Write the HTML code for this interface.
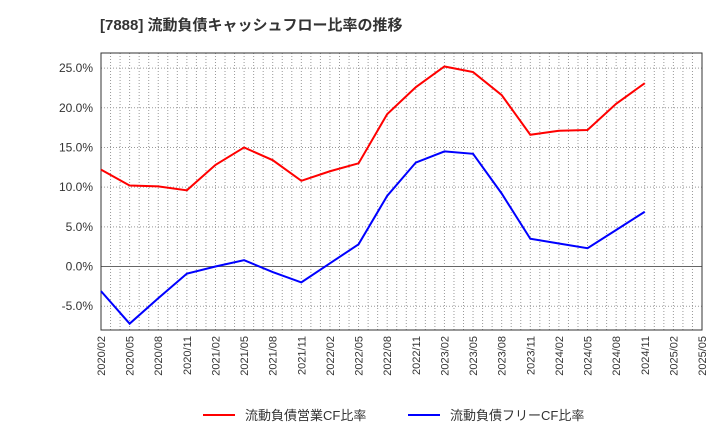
<!DOCTYPE html>
<html><head><meta charset="utf-8"><style>
body{margin:0;background:#fff;font-family:"Liberation Sans","Noto Sans CJK JP",sans-serif}
</style></head><body>
<svg width="720" height="440" xmlns="http://www.w3.org/2000/svg" id="svg">
<text x="100" y="30" font-size="15" font-weight="bold" fill="#333">[7888]  流動負債キャッシュフロー比率の推移</text>
<g id="grid"></g><g id="axes"></g><g id="series"></g>
<g>
<line x1="203" y1="415" x2="235" y2="415" stroke="#f00" stroke-width="2"/>
<text x="245" y="420" font-size="13" fill="#333">流動負債営業CF比率</text>
<line x1="408" y1="415" x2="440" y2="415" stroke="#00f" stroke-width="2"/>
<text x="450" y="420" font-size="13" fill="#333">流動負債フリーCF比率</text>
</g>
</svg>
<script>
const xLabels=["2020/02","2020/05","2020/08","2020/11","2021/02","2021/05","2021/08","2021/11","2022/02","2022/05","2022/08","2022/11","2023/02","2023/05","2023/08","2023/11","2024/02","2024/05","2024/08","2024/11","2025/02","2025/05"];
const yTicks=[-5,0,5,10,15,20,25];
const opCF=[12.2,10.2,10.1,9.6,12.8,15.0,13.4,10.8,12.0,13.0,19.2,22.6,25.2,24.5,21.6,16.6,17.1,17.2,20.5,23.1];
const freeCF=[-3.1,-7.2,-4.0,-0.9,0.0,0.8,-0.7,-2.0,0.4,2.8,8.9,13.1,14.5,14.2,9.2,3.5,2.9,2.3,4.6,6.9];
const L=101,R=702,T=53,B=330,ymin=-8.0,ymax=26.9;
const xs=i=>L+(R-L)*i/(xLabels.length-1);
const ys=v=>B-(v-ymin)/(ymax-ymin)*(B-T);
const NS="http://www.w3.org/2000/svg";
function mk(t,a,p){const e=document.createElementNS(NS,t);for(const k in a)e.setAttribute(k,a[k]);p.appendChild(e);return e;}
const g=document.getElementById('grid'),ax=document.getElementById('axes'),s=document.getElementById('series');
for(let m=1;m<(xLabels.length-1)*3;m++){const x=L+(R-L)*m/((xLabels.length-1)*3);
const l=mk('line',{x1:x,x2:x,y1:T,y2:B,stroke:'#999','stroke-width':1,'stroke-dasharray':'1,2'},g);

}
yTicks.forEach(v=>{const y=ys(v);
const l=mk('line',{x1:L,x2:R,y1:y,y2:y,stroke:v===0?'#666':'#999','stroke-width':1,'stroke-dasharray':v===0?'':'1,2'},g);


const t=mk('text',{x:L-8,y:y+4,'text-anchor':'end','font-size':12,fill:'#333'},ax);t.textContent=v.toFixed(1)+'%';

});
xLabels.forEach((lab,i)=>{const x=xs(i);
const t=mk('text',{x:x+4,y:B+6,'text-anchor':'end','font-size':11,fill:'#333',transform:`rotate(-90 ${x+4} ${B+6})`},ax);t.textContent=lab;

});
const fr=mk('rect',{x:L,y:T,width:R-L,height:B-T,fill:'none',stroke:'#333','stroke-width':1},ax);


[[opCF,'#f00','operating-cf-line'],[freeCF,'#00f','free-cf-line']].forEach(([d,c,n])=>{
const p=mk('polyline',{points:d.map((v,i)=>xs(i)+','+ys(v)).join(' '),fill:'none',stroke:c,'stroke-width':2},s);

});
</script>
</body></html>
